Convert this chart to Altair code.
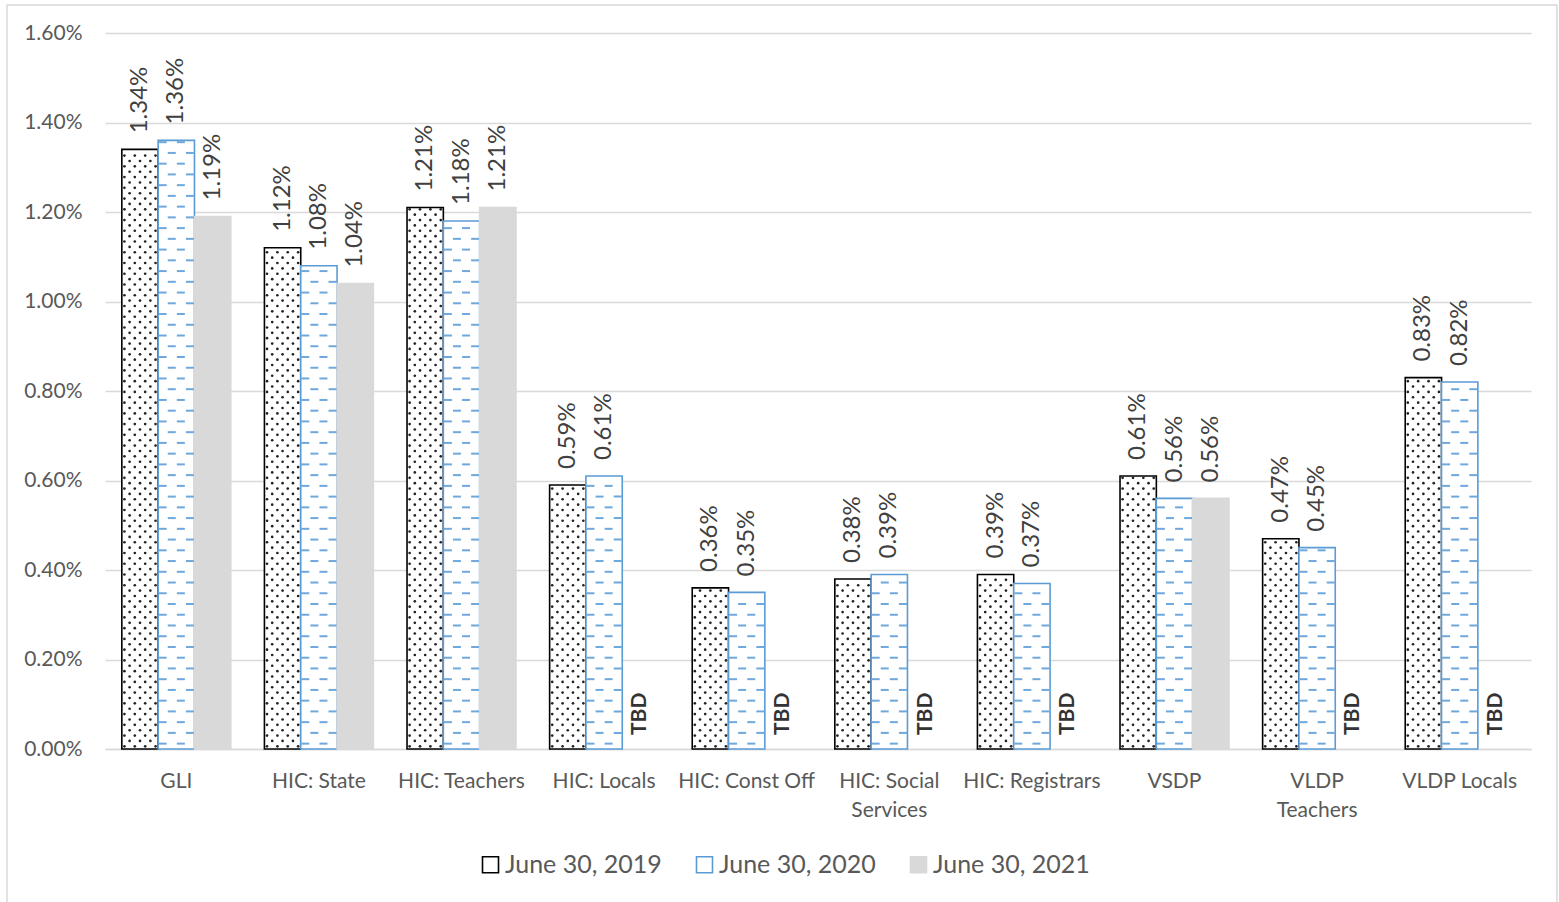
import altair as alt
import pandas as pd

categories = ["GLI", "HIC: State", "HIC: Teachers", "HIC: Locals", "HIC: Const Off",
              "HIC: Social\nServices", "HIC: Registrars", "VSDP", "VLDP\nTeachers", "VLDP Locals"]
series = ["June 30, 2019", "June 30, 2020", "June 30, 2021"]
v2019 = [0.0134, 0.0112, 0.0121, 0.0059, 0.0036, 0.0038, 0.0039, 0.0061, 0.0047, 0.0083]
v2020 = [0.0136, 0.0108, 0.0118, 0.0061, 0.0035, 0.0039, 0.0037, 0.0056, 0.0045, 0.0082]
v2021 = [0.0119, 0.0104, 0.0121, None, None, None, None, 0.0056, None, None]
y_ticks = [0.0, 0.002, 0.004, 0.006, 0.008, 0.010, 0.012, 0.014, 0.016]

FONT = "Lato"
TXT = "#595959"

rows = []
tbd = []
for i, c in enumerate(categories):
    for s, vals in zip(series, [v2019, v2020, v2021]):
        if vals[i] is not None:
            rows.append({"cat": c, "series": s, "value": vals[i]})
        else:
            tbd.append({"cat": c, "series": s, "value": 0.0, "label": "TBD"})
df = pd.DataFrame(rows)
df_tbd = pd.DataFrame(tbd)

# texture for the 2019 bars (dot pattern) and 2020 bars (dash pattern)
DOT_STEP = 0.00012
dots = []
for i, c in enumerate(categories):
    k = 0
    while (k + 0.5) * DOT_STEP < v2019[i] - DOT_STEP * 0.3:
        cols = [0, 2, 4, 6] if k % 2 == 0 else [1, 3, 5]
        for col in cols:
            dots.append({"cat": c, "sub": str(col), "y": (k + 0.5) * DOT_STEP})
        k += 1
df_dots = pd.DataFrame(dots)

DASH_STEP = 0.00024
dashes = []
for i, c in enumerate(categories):
    k = 0
    while (k + 0.5) * DASH_STEP < v2020[i] - DASH_STEP * 0.15:
        cols = [0, 2] if k % 2 == 0 else [1, 3]
        for col in cols:
            dashes.append({"cat": c, "sub": str(4 + col), "y": (k + 0.5) * DASH_STEP})
        k += 1
df_dash = pd.DataFrame(dashes)

xscale = alt.Scale(domain=categories, paddingInner=0.236, paddingOuter=0.118)
x_enc = alt.X("cat:N", scale=xscale, sort=categories,
              axis=alt.Axis(title=None, labelAngle=0, labelExpr="split(datum.label, '\\n')",
                            labelFont=FONT, labelFontSize=21, labelColor=TXT,
                            labelPadding=21, labelLineHeight=29, ticks=False,
                            domainColor="#d9d9d9", domainWidth=1.3, grid=False))
yscale = alt.Scale(domain=[0, 0.016], nice=False)
y_axis = alt.Axis(title=None, values=y_ticks, format=".2%", labelFont=FONT, labelFontSize=21,
                  labelColor=TXT, labelPadding=23, ticks=False, domain=False,
                  gridColor="#d9d9d9", gridWidth=1.3)


def xoff(field, domain):
    return alt.XOffset(field, scale=alt.Scale(type="band", domain=domain, paddingInner=0, paddingOuter=0))


xoff_series = xoff("series:N", series)

bars = alt.Chart(df).mark_bar(strokeWidth=1.6).encode(
    x=x_enc,
    xOffset=xoff_series,
    y=alt.Y("value:Q", scale=yscale, axis=y_axis),
    fill=alt.Fill("series:N", scale=alt.Scale(domain=series, range=["#ffffff", "#ffffff", "#d9d9d9"]),
                  legend=alt.Legend(title=None)),
    stroke=alt.Stroke("series:N", scale=alt.Scale(domain=series, range=["#000000", "#5b9bd5", "#d9d9d9"]),
                      legend=alt.Legend(title=None)),
)

dot_layer = alt.Chart(df_dots).mark_circle(size=7, color="#222222", opacity=1).encode(
    x=alt.X("cat:N", scale=xscale, sort=categories),
    xOffset=xoff("sub:N", [str(i) for i in range(21)]),
    y=alt.Y("y:Q", scale=yscale),
)

dash_layer = alt.Chart(df_dash).mark_tick(orient="horizontal", size=8, thickness=2,
                                          color="#6fa8dc", opacity=1).encode(
    x=alt.X("cat:N", scale=xscale, sort=categories),
    xOffset=xoff("sub:N", [str(i) for i in range(12)]),
    y=alt.Y("y:Q", scale=yscale),
)

labels = alt.Chart(df).mark_text(angle=270, align="left", baseline="middle", dx=16,
                                 font=FONT, fontSize=24, color="#404040").encode(
    x=alt.X("cat:N", scale=xscale, sort=categories),
    xOffset=xoff_series,
    y=alt.Y("value:Q", scale=yscale),
    text=alt.Text("value:Q", format=".2%"),
)

tbd_layer = alt.Chart(df_tbd).mark_text(angle=270, align="left", baseline="middle", dx=14,
                                        font=FONT, fontSize=21, fontWeight="bold",
                                        color="#333333").encode(
    x=alt.X("cat:N", scale=xscale, sort=categories),
    xOffset=xoff_series,
    y=alt.Y("value:Q", scale=yscale),
    text="label:N",
)

frame = alt.Chart(pd.DataFrame({"a": [0]})).mark_rect(fill=None, stroke="#d9d9d9", strokeWidth=1.5).encode(
    x=alt.value(-98), x2=alt.value(1452), y=alt.value(-28), y2=alt.value(880),
)

chart = alt.layer(frame, bars, dot_layer, dash_layer, labels, tbd_layer).resolve_scale(
    xOffset="independent"
).properties(
    width=1426, height=716,
    padding={"left": 105, "top": 33, "right": 28, "bottom": 153},
    autosize=alt.AutoSizeParams(type="none"),
).configure_view(stroke=None).configure_legend(
    orient="none", legendX=373, legendY=819, direction="horizontal",
    symbolType="square", symbolSize=256, symbolStrokeWidth=1.6,
    labelFont=FONT, labelFontSize=25, labelColor=TXT, columnPadding=30,
    labelOffset=2, padding=0,
)

chart.save("out.html", embed_options={"renderer": "svg", "actions": False})
